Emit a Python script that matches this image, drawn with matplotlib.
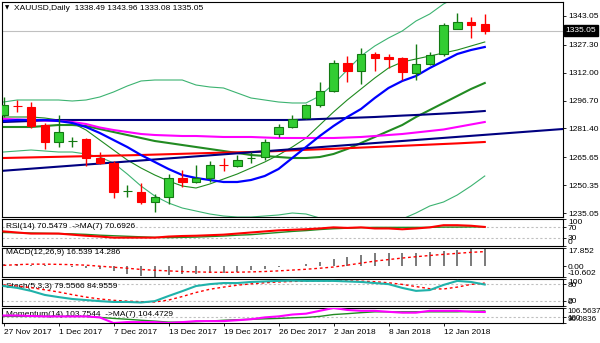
import matplotlib
matplotlib.use("Agg")
import matplotlib.pyplot as plt
import numpy as np

plt.rcParams["font.family"] = ["Liberation Sans", "DejaVu Sans"]

# ---- data ----
title_text = "XAUUSD,Daily  1338.49 1343.96 1333.08 1335.05"
date_labels = ["27 Nov 2017", "1 Dec 2017", "7 Dec 2017", "13 Dec 2017", "19 Dec 2017",
               "26 Dec 2017", "2 Jan 2018", "8 Jan 2018", "12 Jan 2018"]
date_bars = [0, 4, 8, 12, 16, 20, 24, 28, 32]

opens = [1288.78, 1293.90, 1293.16, 1283.29, 1273.98, 1274.40, 1275.62, 1265.20, 1262.46, 1247.00,
         1246.56, 1241.08, 1243.82, 1254.24, 1252.05, 1254.24, 1261.60, 1260.82, 1265.00, 1265.75,
         1278.36, 1282.20, 1287.40, 1294.26, 1301.93, 1317.28, 1312.90, 1322.22, 1320.57, 1320.03,
         1311.80, 1316.74, 1322.22, 1335.92, 1339.76, 1338.49]
highs = [1298.64, 1297.00, 1295.90, 1284.39, 1288.78, 1276.72, 1276.17, 1268.49, 1263.56, 1250.40,
         1251.50, 1245.46, 1256.43, 1258.63, 1261.37, 1263.56, 1265.20, 1266.85, 1268.49, 1275.62,
         1283.84, 1288.78, 1294.80, 1306.87, 1318.93, 1321.12, 1325.51, 1323.32, 1322.22, 1320.57,
         1327.70, 1323.32, 1339.21, 1344.69, 1342.50, 1343.96]
lows = [1287.68, 1290.42, 1281.65, 1270.14, 1271.23, 1271.23, 1260.82, 1261.90, 1243.27, 1243.82,
        1239.98, 1235.60, 1240.00, 1249.30, 1251.50, 1252.05, 1258.10, 1260.30, 1262.46, 1264.11,
        1276.72, 1281.90, 1286.80, 1293.16, 1301.40, 1306.87, 1305.77, 1312.90, 1314.54, 1307.96,
        1307.96, 1316.19, 1321.12, 1335.70, 1331.00, 1333.08]
closes = [1294.26, 1293.60, 1282.75, 1273.98, 1279.46, 1274.60, 1265.20, 1262.46, 1246.56, 1247.20,
          1241.08, 1243.82, 1254.24, 1252.05, 1254.24, 1261.37, 1261.30, 1264.11, 1265.30, 1273.98,
          1282.20, 1286.58, 1294.26, 1301.93, 1317.28, 1312.90, 1322.22, 1320.03, 1319.48, 1312.35,
          1316.74, 1321.67, 1338.12, 1339.76, 1338.12, 1335.05]

bb_upper = [1295.90, 1297.00, 1297.00, 1297.00, 1297.00, 1296.45, 1297.00, 1298.64, 1301.38, 1304.67,
            1307.42, 1307.96, 1307.96, 1307.96, 1305.22, 1304.13, 1303.58, 1300.84, 1298.10, 1297.00,
            1295.90, 1295.36, 1295.36, 1299.19, 1305.77, 1313.45, 1321.12, 1326.60, 1330.99, 1334.83,
            1340.31, 1344.15, 1349.63, 1353.46, 1356.21, 1357.30]
bb_middle = [1282.20, 1282.20, 1282.20, 1282.75, 1283.29, 1283.29, 1282.75, 1281.10, 1279.46, 1277.81,
             1276.17, 1274.52, 1273.43, 1272.33, 1271.23, 1270.14, 1269.04, 1267.95, 1266.85, 1266.30,
             1265.75, 1265.20, 1265.20, 1265.75, 1267.40, 1270.14, 1273.43, 1276.72, 1280.01, 1283.29,
             1287.68, 1291.52, 1295.36, 1299.19, 1303.03, 1306.32]
bb_lower = [1268.49, 1269.04, 1269.59, 1269.04, 1268.49, 1268.49, 1267.40, 1265.75, 1262.46, 1256.43,
            1249.85, 1244.37, 1240.54, 1237.79, 1236.15, 1234.51, 1233.41, 1232.86, 1232.86, 1233.41,
            1233.96, 1235.05, 1234.51, 1232.31, 1229.02, 1226.83, 1225.73, 1226.83, 1229.02, 1231.76,
            1235.05, 1238.89, 1241.08, 1244.92, 1249.85, 1255.34]
ma_fast = [1285.49, 1286.04, 1286.04, 1286.04, 1285.49, 1284.39, 1282.20, 1278.91, 1275.07, 1271.23,
           1266.85, 1263.01, 1259.17, 1255.88, 1254.24, 1253.14, 1252.05, 1252.05, 1253.14, 1255.34,
           1259.17, 1265.20, 1271.23, 1277.26, 1282.75, 1287.68, 1292.07, 1298.10, 1303.58, 1307.42,
           1310.16, 1314.54, 1318.38, 1322.22, 1324.41, 1326.05]
ma_thin = [1287.68, 1287.68, 1287.68, 1287.13, 1286.04, 1284.39, 1280.55, 1275.07, 1269.59, 1264.11,
           1259.72, 1255.88, 1252.60, 1249.85, 1248.76, 1250.95, 1253.69, 1256.43, 1259.72, 1263.01,
           1266.85, 1271.23, 1276.17, 1283.29, 1290.42, 1297.00, 1303.03, 1309.06, 1314.54, 1317.83,
           1319.48, 1321.12, 1322.77, 1324.41, 1326.60, 1328.80]
ma_navy = [1284.94, 1285.21, 1285.49, 1285.76, 1286.04, 1286.04, 1286.04, 1286.04, 1286.04, 1286.04,
           1286.04, 1286.04, 1286.04, 1286.04, 1286.04, 1286.04, 1286.04, 1286.04, 1286.04, 1286.04,
           1286.04, 1286.04, 1286.31, 1286.58, 1286.86, 1287.13, 1287.40, 1287.68, 1288.06, 1288.45,
           1288.78, 1289.16, 1289.55, 1289.98, 1290.42, 1290.97]
ma_magenta = [1286.58, 1286.31, 1286.04, 1285.76, 1285.49, 1284.94, 1283.84, 1281.93, 1280.55, 1279.46,
              1278.36, 1277.81, 1277.54, 1277.26, 1277.26, 1276.99, 1276.72, 1276.72, 1276.72, 1276.44,
              1276.17, 1276.17, 1276.17, 1276.17, 1276.17, 1276.44, 1276.72, 1277.26, 1277.81, 1278.36,
              1279.18, 1280.01, 1280.83, 1282.20, 1283.57, 1284.94]
ma_red = [1265.20, 1265.37, 1265.53, 1265.70, 1265.86, 1266.03, 1266.19, 1266.36, 1266.52, 1266.68,
          1266.85, 1267.07, 1267.29, 1267.51, 1267.73, 1267.95, 1268.16, 1268.33, 1268.49, 1268.77,
          1269.04, 1269.37, 1269.70, 1269.97, 1270.25, 1270.58, 1270.91, 1271.23, 1271.56, 1271.89,
          1272.22, 1272.55, 1272.88, 1273.21, 1273.60, 1273.98]
trend_bars = [0, 35]
trend_prices = [1258.22, 1277.90]

price_ticks = [1343.05, 1327.30, 1312.00, 1296.70, 1281.40, 1265.65, 1250.35, 1235.05]
last_price = 1335.05

rsi = [54, 50, 46, 46, 46, 42, 38, 35, 31, 31, 31, 31, 35, 37, 38, 40, 42, 46, 50, 54,
       58, 60, 62, 65, 69, 67, 69, 65, 65, 62, 65, 69, 77, 77, 75, 70.5479]
rsi_ma = [50, 49, 48, 47, 46, 45, 43, 40, 38, 36, 34, 32, 31, 32, 33, 35, 37, 40, 42, 46,
          50, 54, 57, 61, 64, 66, 68, 69, 69, 69, 69, 69, 70, 70, 70.5, 70.6926]

macd = [2.0, 1.8, 1.5, 0.8, 0.3, -0.5, -1.5, -2.5, -4.7, -7.5, -9.5, -10.602, -9.0, -8.0, -7.5,
        -7.0, -6.5, -5.5, -4.0, -2.5, -1.0, 0.2, 2.2, 4.1, 6.6, 9.0, 11.0, 12.5, 13.0, 13.4,
        13.4, 13.9, 14.9, 15.9, 17.852, 16.539]
macd_signal = [0.8, 1.5, 2.0, 2.0, 1.8, 1.5, 1.0, 0.0, -1.0, -2.0, -3.2, -4.0, -4.6, -5.2, -5.6,
               -5.9, -6.0, -5.9, -5.6, -5.2, -4.6, -3.8, -3.0, -2.0, -0.8, 1.0, 3.0, 5.0, 6.5, 8.0,
               9.3, 10.5, 11.6, 12.6, 13.6, 14.286]

stoch_k = [74, 67, 56, 41, 33, 26, 22, 18, 15, 15, 13, 18, 37, 55, 74, 81, 85, 85, 89, 91,
           93, 94, 93, 93, 93, 91, 89, 85, 81, 67, 56, 59, 78, 93, 89, 79.5566]
stoch_d = [78, 74, 68, 60, 52, 42, 33, 26, 21, 18, 16, 15, 22, 35, 50, 62, 70, 77, 82, 86,
           89, 91, 92, 93, 93, 93, 92, 90, 86, 80, 72, 64, 63, 70, 80, 84.9559]

momentum = [101.3, 101.3, 101.0, 100.7, 100.7, 100.7, 100.7, 100.0, 96.0836, 96.7, 96.7, 96.7,
            96.1, 96.7, 97.4, 97.4, 97.4, 98.0, 98.7, 100.0, 100.7, 102.0, 102.6, 104.6, 106.5637,
            105.2, 104.6, 104.6, 103.9, 103.3, 103.3, 104.6, 104.6, 104.6, 103.9, 103.7544]
momentum_ma = [100.7, 100.7, 100.7, 100.7, 100.7, 100.7, 100.7, 100.0, 99.3, 98.7, 98.0, 97.4,
               96.7, 96.7, 97.0, 97.4, 98.0, 98.4, 98.7, 99.0, 99.3, 99.7, 100.0, 100.7, 102.0,
               102.6, 103.3, 103.9, 103.9, 103.9, 103.9, 103.9, 103.9, 103.9, 104.3, 104.4729]

# ---- layout (pixel boxes of the original terminal window) ----
W, H = 600, 343
fig = plt.figure(figsize=(W / 100, H / 100), dpi=100)
fig.patch.set_facecolor("white")


def panel(x0, y0, x1, y1):
    return fig.add_axes([x0 / W, 1 - y1 / H, (x1 - x0) / W, (y1 - y0) / H])


ax = panel(2, 2, 563, 217)
ax_rsi = panel(2, 219, 563, 246)
ax_macd = panel(2, 248, 563, 277)
ax_sto = panel(2, 279, 563, 306)
ax_mom = panel(2, 308, 563, 323)
axes = [ax, ax_rsi, ax_macd, ax_sto, ax_mom]

x = np.arange(len(closes))
o, h, l, c = map(np.array, (opens, highs, lows, closes))
up = c >= o
dim = "#c0c0c0"

for a in axes:
    a.set_xlim(-0.11, 40.69)
    a.yaxis.tick_right()
    a.tick_params(axis="y", length=2.5, width=0.6, labelsize=6, pad=1)
    a.tick_params(axis="x", bottom=False, labelbottom=False)
    for s in a.spines.values():
        s.set_linewidth(0.8)

# ---- main price panel ----
ax.set_ylim(1232.86, 1350.72)
ax.axhline(last_price, color=dim, lw=0.8, zorder=1)

ax.plot(x, bb_upper, color="#3cb371", lw=0.8, zorder=2)
ax.plot(x, bb_lower, color="#3cb371", lw=0.8, zorder=2)
ax.plot(x, ma_thin, color="#1f8a1f", lw=0.8, zorder=2)
ax.plot(x, bb_middle, color="#228b22", lw=1.5, zorder=2)
ax.plot(x, ma_navy, color="#000080", lw=1.5, zorder=2)
ax.plot(x, ma_magenta, color="#ff00ff", lw=1.5, zorder=2)
ax.plot(x, ma_red, color="#ff0000", lw=1.5, zorder=2)
ax.axline((trend_bars[0], trend_prices[0]), (trend_bars[1], trend_prices[1]),
          color="#000080", lw=1.5, zorder=2)
ax.plot(x, ma_fast, color="#0000ff", lw=1.6, zorder=2)

body_lo = np.minimum(o, c)
body_h = np.maximum(np.abs(c - o), 0.3)
ax.vlines(x[up], l[up], h[up], color="#137a13", lw=1, zorder=3)
ax.vlines(x[~up], l[~up], h[~up], color="#ff0000", lw=1, zorder=3)
ax.bar(x[up], body_h[up], bottom=body_lo[up], width=0.62, color="#32cd32",
       edgecolor="#137a13", lw=0.8, zorder=4)
ax.bar(x[~up], body_h[~up], bottom=body_lo[~up], width=0.62, color="#ff0000",
       edgecolor="#ff0000", lw=0.8, zorder=4)

ax.set_yticks(price_ticks)
ax.set_yticklabels([f"{v:.2f}" for v in price_ticks])
ax.text(1 + 2.5 / 561, last_price, f"{last_price:.2f}", transform=ax.get_yaxis_transform(),
        color="white", fontsize=6, va="center", ha="left",
        bbox=dict(boxstyle="square,pad=0.2", fc="black", ec="black"), clip_on=False)

ax.text(5 / W, 1 - 8 / H, "\u25bc", transform=fig.transFigure, fontsize=4,
        family="DejaVu Sans", va="center", ha="left")
ax.text(14 / W, 1 - 8 / H, title_text, transform=fig.transFigure, fontsize=6,
        va="center", ha="left")


def set_levels(a, values, labels, ylim):
    a.set_ylim(*ylim)
    a.set_yticks(values)
    a.set_yticklabels(labels)
    for t, v in zip(a.get_yticklabels(), values):
        if v == max(values):
            t.set_va("top")
        elif v == min(values):
            t.set_va("bottom")


def panel_title(a, y_px, text):
    a.text(6 / W, 1 - y_px / H, text, transform=fig.transFigure, fontsize=6,
           va="center", ha="left", zorder=1)


# ---- RSI ----
for lev in (70, 30):
    ax_rsi.axhline(lev, color=dim, lw=0.8, ls=(0, (2, 2)), zorder=1)
ax_rsi.plot(x, rsi_ma, color="#228b22", lw=1, zorder=2)
ax_rsi.plot(x, rsi, color="#ff0000", lw=1.5, zorder=3)
set_levels(ax_rsi, [100, 70, 30, 0], ["100", "70", "30", "0"], (0, 100))
panel_title(ax_rsi, 226, "RSI(14) 70.5479  ->MA(7) 70.6926")

# ---- MACD ----
ax_macd.vlines(x, 0, macd, color="#707070", lw=1.3, zorder=2)
ax_macd.plot(x, macd_signal, color="#ff0000", lw=1, ls=(0, (2, 2)), zorder=3)
set_levels(ax_macd, [17.852, 0.0, -10.602], ["17.852", "0.00", "-10.602"], (-10.602, 17.852))
panel_title(ax_macd, 252, "MACD(12,26,9) 16.539 14.286")

# ---- Stochastic ----
for lev in (80, 20):
    ax_sto.axhline(lev, color=dim, lw=0.8, ls=(0, (2, 2)), zorder=1)
ax_sto.plot(x, stoch_d, color="#ff0000", lw=1, ls=(0, (2, 2)), zorder=2)
ax_sto.plot(x, stoch_k, color="#20b2aa", lw=1.5, zorder=3)
set_levels(ax_sto, [100, 80, 20, 0], ["100", "80", "20", "0"], (0, 100))
panel_title(ax_sto, 286, "Stoch(5,3,3) 79.5566 84.9559")

# ---- Momentum ----
ax_mom.axhline(100, color=dim, lw=0.8, ls=(0, (2, 2)), zorder=1)
ax_mom.plot(x, momentum_ma, color="#228b22", lw=1, zorder=2)
ax_mom.plot(x, momentum, color="#ff00ff", lw=1.5, zorder=3)
set_levels(ax_mom, [106.5637, 100, 96.0836], ["106.5637", "100", "96.0836"],
           (min(momentum), max(momentum)))
for t in ax_mom.get_yticklabels():
    t.set_fontsize(5.8)
panel_title(ax_mom, 315, "Momentum(14) 103.7544  ->MA(7) 104.4729")

ax_mom.set_xticks(date_bars)
ax_mom.set_xticklabels(date_labels, ha="left")
ax_mom.tick_params(axis="x", bottom=True, labelbottom=True, length=2.5, width=0.6,
                   labelsize=6, pad=2)

fig.savefig("out.png", dpi=100)
